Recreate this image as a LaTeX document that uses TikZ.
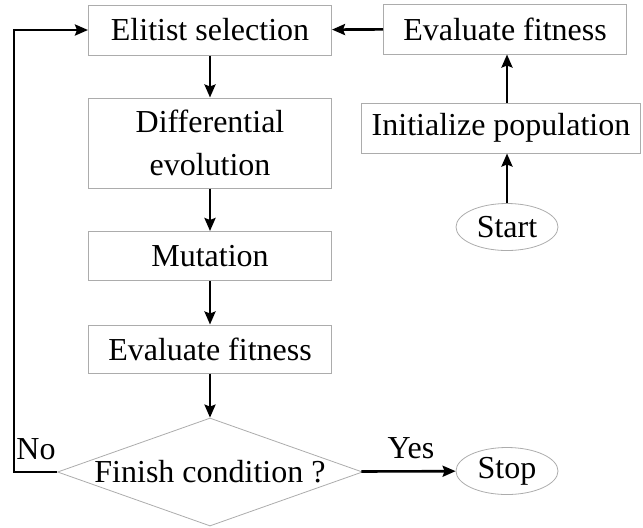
\documentclass[tikz,border=0pt]{standalone}
\usepackage{fontspec}
\setmainfont{Liberation Serif}
\usetikzlibrary{shapes.geometric,arrows.meta}

\tikzset{
  stepbox/.style={draw=gray!65, line width=0.5pt, rectangle, minimum width=121.5pt,
    minimum height=25pt, inner sep=0pt, align=center},
  termnode/.style={draw=gray!65, line width=0.4pt, ellipse, minimum width=51pt,
    minimum height=23.5pt, inner sep=0pt},
  decision/.style={draw=gray!65, line width=0.4pt, diamond, minimum width=152.5pt,
    minimum height=54pt, inner sep=0pt},
  flow/.style={line width=1.3pt, -{Stealth[length=6.5pt,width=5.5pt,inset=1pt]}},
}

\begin{document}
\begin{tikzpicture}[x=0.5pt, y=-0.5pt, font=\fontsize{16}{21.5}\selectfont]

  \useasboundingbox (0,0) rectangle (643,527);

  % Main loop
  \node[stepbox] (elit) at (210,30) {Elitist selection};
  \node[stepbox, minimum height=45pt] (diff) at (210,143) {Differential\\evolution};
  \node[stepbox, minimum height=24.5pt] (mut) at (210,256) {Mutation};
  \node[stepbox, minimum height=24pt] (evalA) at (210,349) {Evaluate fitness};
  \node[decision, label=center:{Finish condition ?}] (cond) at (210,472) {};
  \node[termnode] (stop) at (507,471) {Stop};

  % Initial branch
  \node[stepbox] (evalB) at (505,29) {Evaluate fitness};
  \node[stepbox, minimum width=139.5pt] (init) at (501,128) {Initialize population};
  \node[termnode] (start) at (507,227) {Start};

  % Arrows
  \draw[flow] (start) -- (start |- init.south);
  \draw[flow] (init.north -| start) -- (start |- evalB.south);
  \draw[flow] (evalB) -- (elit);
  \draw[flow] (elit) -- (diff);
  \draw[flow] (diff) -- (mut);
  \draw[flow] (mut) -- (evalA);
  \draw[flow] (evalA) -- (cond);
  \draw[flow] (cond) -- (stop);

  % Loop back
  \coordinate (back) at (14,472);
  \draw[flow] (cond.west) -- (back) |- (elit.west);

  % Branch labels
  \node (no) at (36,449) {No};
  \node (yes) at (411,448) {Yes};

\end{tikzpicture}
\end{document}
